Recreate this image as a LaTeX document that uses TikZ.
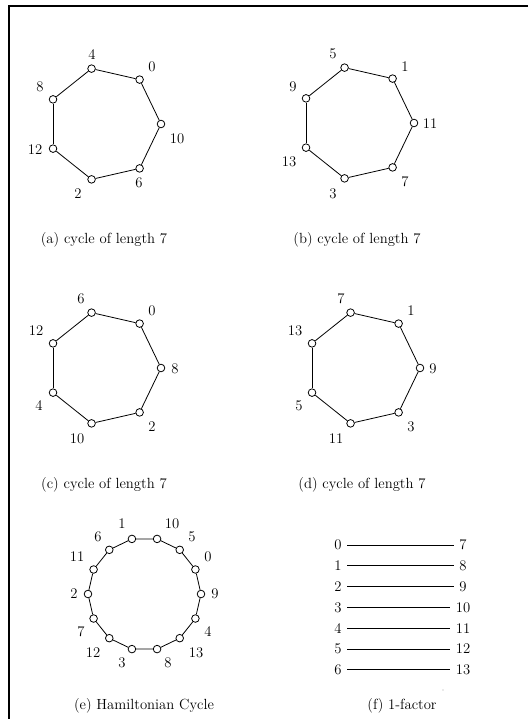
\documentclass[tikz,border=0pt]{standalone}
\usepackage{fontspec}
\begin{document}
\begin{tikzpicture}[x=1pt,y=-1pt,
  every node/.style={font=\fontsize{14.7}{17}\selectfont},
  vtx/.style={draw,circle,fill=white,inner sep=0pt,minimum size=7.6pt,line width=0.8pt},
  edge/.style={line width=0.8pt},
  lbl/.style={inner sep=0pt},
  capt/.style={inner sep=0pt},
  frameline/.style={line width=1.1pt}]
\useasboundingbox (0,0) rectangle (528,719);
% frame
\coordinate (ftl) at (9,6);
\coordinate (ftr) at (528,6);
\coordinate (fbl) at (9,719);
\draw[frameline] (ftr) -- (ftl) -- (fbl);

% (a)
\foreach \lab [count=\k from 0] in {10,0,4,8,12,2,6}
  \node[vtx] (a\lab) at ({104.2+56.8*cos(\k*360/7)},{124-56.8*sin(\k*360/7)}) {};
\foreach \u/\v in {10/0,0/4,4/8,8/12,12/2,2/6,6/10}
  \draw[edge] (a\u) -- (a\v);
\foreach \lab/\x/\y in {10/177/139,0/152/67,4/92/55,8/40/87,12/35/150,2/78/194,6/139/183}
  \node[lbl] (la\lab) at (\x,\y) {\lab};
\node[capt] (capa) at (104,240) {(a) cycle of length 7};

% (b)
\foreach \lab [count=\k from 0] in {11,1,5,9,13,3,7}
  \node[vtx] (b\lab) at ({357.2+56.8*cos(\k*360/7)},{123-56.8*sin(\k*360/7)}) {};
\foreach \u/\v in {11/1,1/5,5/9,9/13,13/3,3/7,7/11}
  \draw[edge] (b\u) -- (b\v);
\foreach \lab/\x/\y in {11/430/124,1/405/67,5/333/54,9/293/87,13/289/162,3/333/194,7/405/182}
  \node[lbl] (lb\lab) at (\x,\y) {\lab};
\node[capt] (capb) at (357,240) {(b) cycle of length 7};

% (c)
\foreach \lab [count=\k from 0] in {8,0,6,12,4,10,2}
  \node[vtx] (c\lab) at ({104.2+56.8*cos(\k*360/7)},{368-56.8*sin(\k*360/7)}) {};
\foreach \u/\v in {8/0,0/6,6/12,12/4,4/10,10/2,2/8}
  \draw[edge] (c\u) -- (c\v);
\foreach \lab/\x/\y in {8/175/369,0/152/311,6/81/299,12/36/331,4/39/406,10/77/439,2/152/427}
  \node[lbl] (lc\lab) at (\x,\y) {\lab};
\node[capt] (capc) at (104,485) {(c) cycle of length 7};

% (d)
\foreach \lab [count=\k from 0] in {9,1,7,13,5,11,3}
  \node[vtx] (d\lab) at ({363.2+56.8*cos(\k*360/7)},{368-56.8*sin(\k*360/7)}) {};
\foreach \u/\v in {9/1,1/7,7/13,13/5,5/11,11/3,3/9}
  \draw[edge] (d\u) -- (d\v);
\foreach \lab/\x/\y in {9/433/369,1/411/311,7/341/299,13/295/331,5/299/406,11/336/439,3/411/427}
  \node[lbl] (ld\lab) at (\x,\y) {\lab};
\node[capt] (capd) at (362,485) {(d) cycle of length 7};

% (e)
\foreach \lab [count=\k from 0] in {9,0,5,10,1,6,11,2,7,12,3,8,13,4}
  \node[vtx] (e\lab) at ({144.5+56.5*cos(\k*360/14)},{594-56.5*sin(\k*360/14)}) {};
\foreach \u/\v in {9/0,0/5,5/10,10/1,1/6,6/11,11/2,2/7,7/12,12/3,3/8,8/13,13/4,4/9}
  \draw[edge] (e\u) -- (e\v);
\foreach \lab/\x/\y in {9/215/594,0/208/557,5/192/537,10/172/524,1/122/524,6/98/537,11/77/557,2/74/594,7/81/632,12/93/653,3/122/663,8/168/663,13/196/653,4/208/632}
  \node[lbl] (le\lab) at (\x,\y) {\lab};
\node[capt] (cape) at (144,706) {(e) Hamiltonian Cycle};

% (f)
\foreach \l/\r [count=\k from 0] in {0/7,1/8,2/9,3/10,4/11,5/12,6/13} {
  \node[inner sep=5.5pt] (fl\l) at (338,{545+20.8*\k}) {\l};
  \node[inner sep=5.5pt] (fr\r) at (463,{545+20.8*\k}) {\r};
  \draw[edge] (fl\l) -- (fr\r);
}
\fill[gray!70] (443,690) circle (0.6);
\node[capt] (capf) at (402,706) {(f) 1-factor};
\end{tikzpicture}
\end{document}
